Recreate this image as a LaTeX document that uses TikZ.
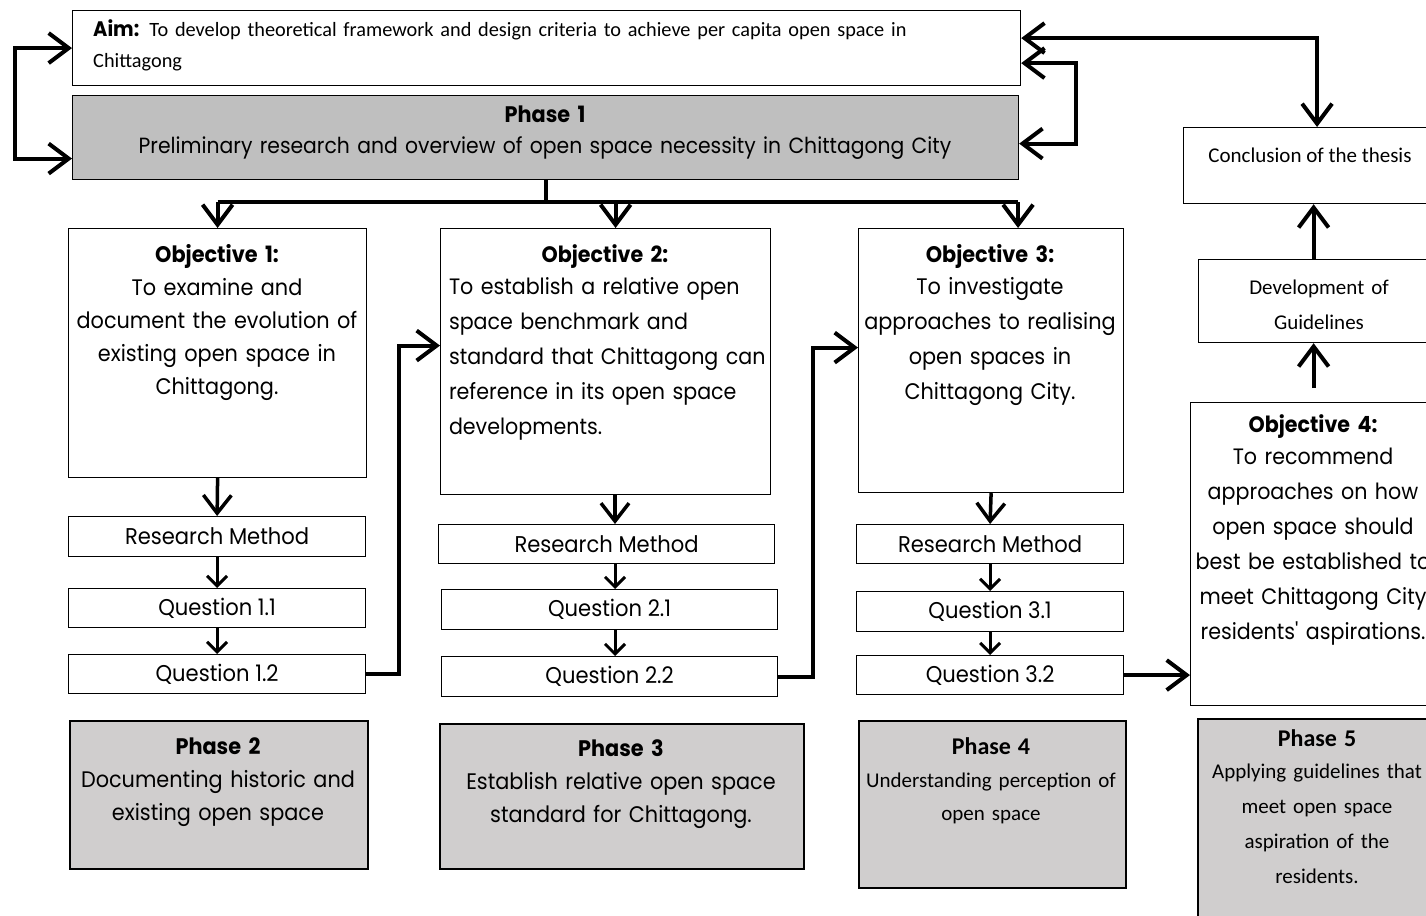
\documentclass[tikz,border=0pt]{standalone}
\usepackage{fontspec}
\setmainfont{Carlito}
\newfontfamily\gothic[FakeStretch=0.925]{Poppins}
\newfontfamily\calib{Carlito}
\usetikzlibrary{arrows.meta,calc}

\definecolor{phasedark}{HTML}{BFBFBF}
\definecolor{phaselight}{HTML}{D0CECE}

% font helpers: Century-Gothic-like and Calibri-like faces
\newcommand\gf[2]{\gothic\fontsize{#1}{#2}\selectfont}
\newcommand\cf[2]{\calib\fontsize{#1}{#2}\selectfont}

% a box given by its top-left and bottom-right corners (y grows downwards)
\newcommand\placebox[7]{%
  \node[#2, anchor=north west, minimum width={#5-#3}, minimum height={#6-#4}] (#1) at (#3,#4) {#7};}

\tikzset{
  bigtip/.tip={Straight Barb[length=20pt,width=30pt]},
  midtip/.tip={Straight Barb[length=18pt,width=28pt]},
  smalltip/.tip={Straight Barb[length=10pt,width=20pt]},
  plainbox/.style={draw=black, line width=1.2pt, fill=white, inner sep=0pt},
  phasebox/.style={draw=black, line width=2.4pt, fill=phaselight, inner sep=0pt},
  smallbox/.style={plainbox, font=\gf{22.8}{26}},
  gtext/.style={inner sep=0pt, anchor=base, align=center, font=\gf{22.5}{34}},
  ctext/.style={inner sep=0pt, anchor=base, align=center, font=\cf{21}{35}},
  heavy/.style={line width=4pt},
  objarrow/.style={line width=3.5pt, -midtip},
  qarrow/.style={line width=3pt, -smalltip},
}

\begin{document}
\begin{tikzpicture}[x=1pt, y=-1pt]
\useasboundingbox (0,0) rectangle (1426,915);
\fill[white] (0,0) rectangle (1426,915);
\clip (0,0) rectangle (1426,915);

% ---------- aim and phase 1 ----------
\placebox{aim}{plainbox}{72}{10}{1020}{85}{}
\placebox{ph1}{plainbox, fill=phasedark}{72}{95}{1018}{179}{}
\node[ctext, anchor=base west, align=left, text width=930pt, font=\cf{20.3}{31}] (aimt) at (93,37)
  {{\gf{21}{31}\bfseries Aim:} To develop theoretical framework and design criteria to achieve per capita open space in\\Chittagong};
\node[gtext, text width=900pt, font=\gf{22}{32}] (ph1t) at (545,122)
  {{\bfseries\fontsize{22.5}{32}\selectfont Phase 1}\\Preliminary research and overview of open space necessity in Chittagong City};

% ---------- column 1 ----------
\placebox{obj1}{plainbox}{68}{228}{366}{477}{}
\node[gtext, text width=294pt, font=\gf{22.5}{33}] (obj1t) at (217,262)
  {{\bfseries Objective 1:}\\To examine and\\document the evolution of\\existing open space in\\Chittagong.};
\placebox{rm1}{smallbox}{68}{516}{365}{556}{Research Method}
\placebox{q11}{smallbox}{68}{588}{365}{627}{Question 1.1}
\placebox{q12}{smallbox}{68}{654}{365}{693}{Question 1.2}
\placebox{ph2}{phasebox}{69}{720}{367}{868}{}
\node[gtext, text width=292pt, font=\gf{22.5}{33}] (ph2t) at (218,754)
  {{\bfseries Phase 2}\\Documenting historic and\\existing open space};

% ---------- column 2 ----------
\placebox{obj2}{plainbox}{440}{228}{770}{494}{}
\node[gtext, text width=312pt, font=\gf{22.3}{35}] (obj2t) at (605,262)
  {{\bfseries Objective 2:}\\[-3pt]
   \makebox[312pt][s]{To establish a relative open}\\
   \makebox[312pt][s]{space benchmark and}\\
   \makebox[312pt][s]{standard that Chittagong can}\\
   \makebox[312pt][s]{reference in its open space}\\
   \makebox[312pt][l]{developments.}};
\placebox{rm2}{smallbox}{438}{524}{774}{563}{Research Method}
\placebox{q21}{smallbox}{441}{589}{777}{629}{Question 2.1}
\placebox{q22}{smallbox}{441}{656}{777}{696}{Question 2.2}
\placebox{ph3}{phasebox}{439}{723}{803}{868}{}
\node[gtext, text width=350pt, font=\gf{22.5}{33}] (ph3t) at (621,756)
  {{\bfseries Phase 3}\\Establish relative open space\\standard for Chittagong.};

% ---------- column 3 ----------
\placebox{obj3}{plainbox}{858}{228}{1123}{492}{}
\node[gtext, text width=262pt, font=\gf{22.5}{35}] (obj3t) at (990,262)
  {{\bfseries Objective 3:}\\[-3pt]To investigate\\approaches to realising\\open spaces in\\Chittagong City.};
\placebox{rm3}{smallbox}{856}{524}{1123}{563}{Research Method}
\placebox{q31}{smallbox}{856}{591}{1123}{631}{Question 3.1}
\placebox{q32}{smallbox}{856}{655}{1123}{694}{Question 3.2}
\placebox{ph4}{phasebox}{858}{720}{1125}{887}{}
\node[ctext, text width=260pt, font=\cf{21}{33}] (ph4t) at (991,754)
  {{\bfseries\fontsize{24}{33}\selectfont Phase 4}\\Understanding perception of\\open space};

% ---------- right column ----------
\placebox{concl}{plainbox}{1183}{127}{1450}{203}{}
\node[ctext] (conclt) at (1310,162) {Conclusion of the thesis};
\placebox{dev}{plainbox}{1198}{259}{1428}{342}{}
\node[ctext, text width=220pt] (devt) at (1319,294) {Development of\\Guidelines};
\placebox{obj4}{plainbox}{1190}{402}{1436}{705}{}
\node[gtext, text width=300pt, font=\gf{22.3}{35}] (obj4t) at (1313,432)
  {{\bfseries Objective 4:}\\[-3pt]To recommend\\approaches on how\\open space should\\best be established to\\meet Chittagong City\\residents' aspirations.};
\placebox{ph5}{phasebox}{1197}{718}{1437}{930}{}
\node[ctext, text width=240pt] (ph5t) at (1317,746)
  {{\bfseries\fontsize{24}{32}\selectfont Phase 5}\\[-3pt]Applying guidelines that\\meet open space\\aspiration of the\\residents.};

% ---------- feedback loops round the aim ----------
\draw[heavy, bigtip-bigtip] (aim.west) -- ++(-57,0) |- ([yshift=-21pt]ph1.west);
\draw[heavy, bigtip-bigtip] ([yshift=-15pt]aim.east) -- ++(55,0) |- ([yshift=-6pt]ph1.east);
\draw[heavy, bigtip-bigtip] ([yshift=10pt]aim.east) -| (concl.north);

% ---------- phase 1 splits into the three objectives ----------
\draw[heavy] (ph1.south) -- ++(0,22) coordinate (hub);
\coordinate (o2x) at ($(obj2.north)+(10,0)$);
\coordinate (o3x) at ($(obj3.north)+(27,0)$);
\draw[heavy] (hub -| obj1.north) -- (hub -| o3x);
\draw[heavy, -bigtip] (hub -| obj1.north) -- (obj1.north);
\draw[heavy, -bigtip] (hub -| o2x) -- (o2x);
\draw[heavy, -bigtip] (hub -| o3x) -- (o3x);

% ---------- inside each column ----------
\coordinate (c2) at (615,0);
\draw[objarrow] (obj1.south) -- (rm1.north);
\draw[qarrow] (rm1.south) -- (q11.north);
\draw[qarrow] (q11.south) -- (q12.north);
\draw[objarrow] (obj2.south -| c2) -- (rm2.north -| c2);
\draw[qarrow] (rm2.south -| c2) -- (q21.north -| c2);
\draw[qarrow] (q21.south -| c2) -- (q22.north -| c2);
\draw[objarrow] (obj3.south) -- (rm3.north);
\draw[qarrow] (rm3.south) -- (q31.north);
\draw[qarrow] (q31.south) -- (q32.north);

% ---------- from each last question on to the next objective ----------
\draw[heavy, -bigtip] (q12.east) -- ++(33,0) |- ([yshift=16pt]obj2.west);
\draw[heavy, -bigtip] (q22.east) -- ++(35,0) |- ([yshift=13pt]obj3.west);
\draw[heavy, -bigtip] (q32.east) -- (q32.east -| obj4.west);

% ---------- towards the conclusion ----------
\draw[heavy, -bigtip, shorten <=14pt] (obj4.north) -- (obj4.north |- dev.south);
\draw[heavy, -bigtip] (dev.north) -- (dev.north |- concl.south);
\end{tikzpicture}
\end{document}
